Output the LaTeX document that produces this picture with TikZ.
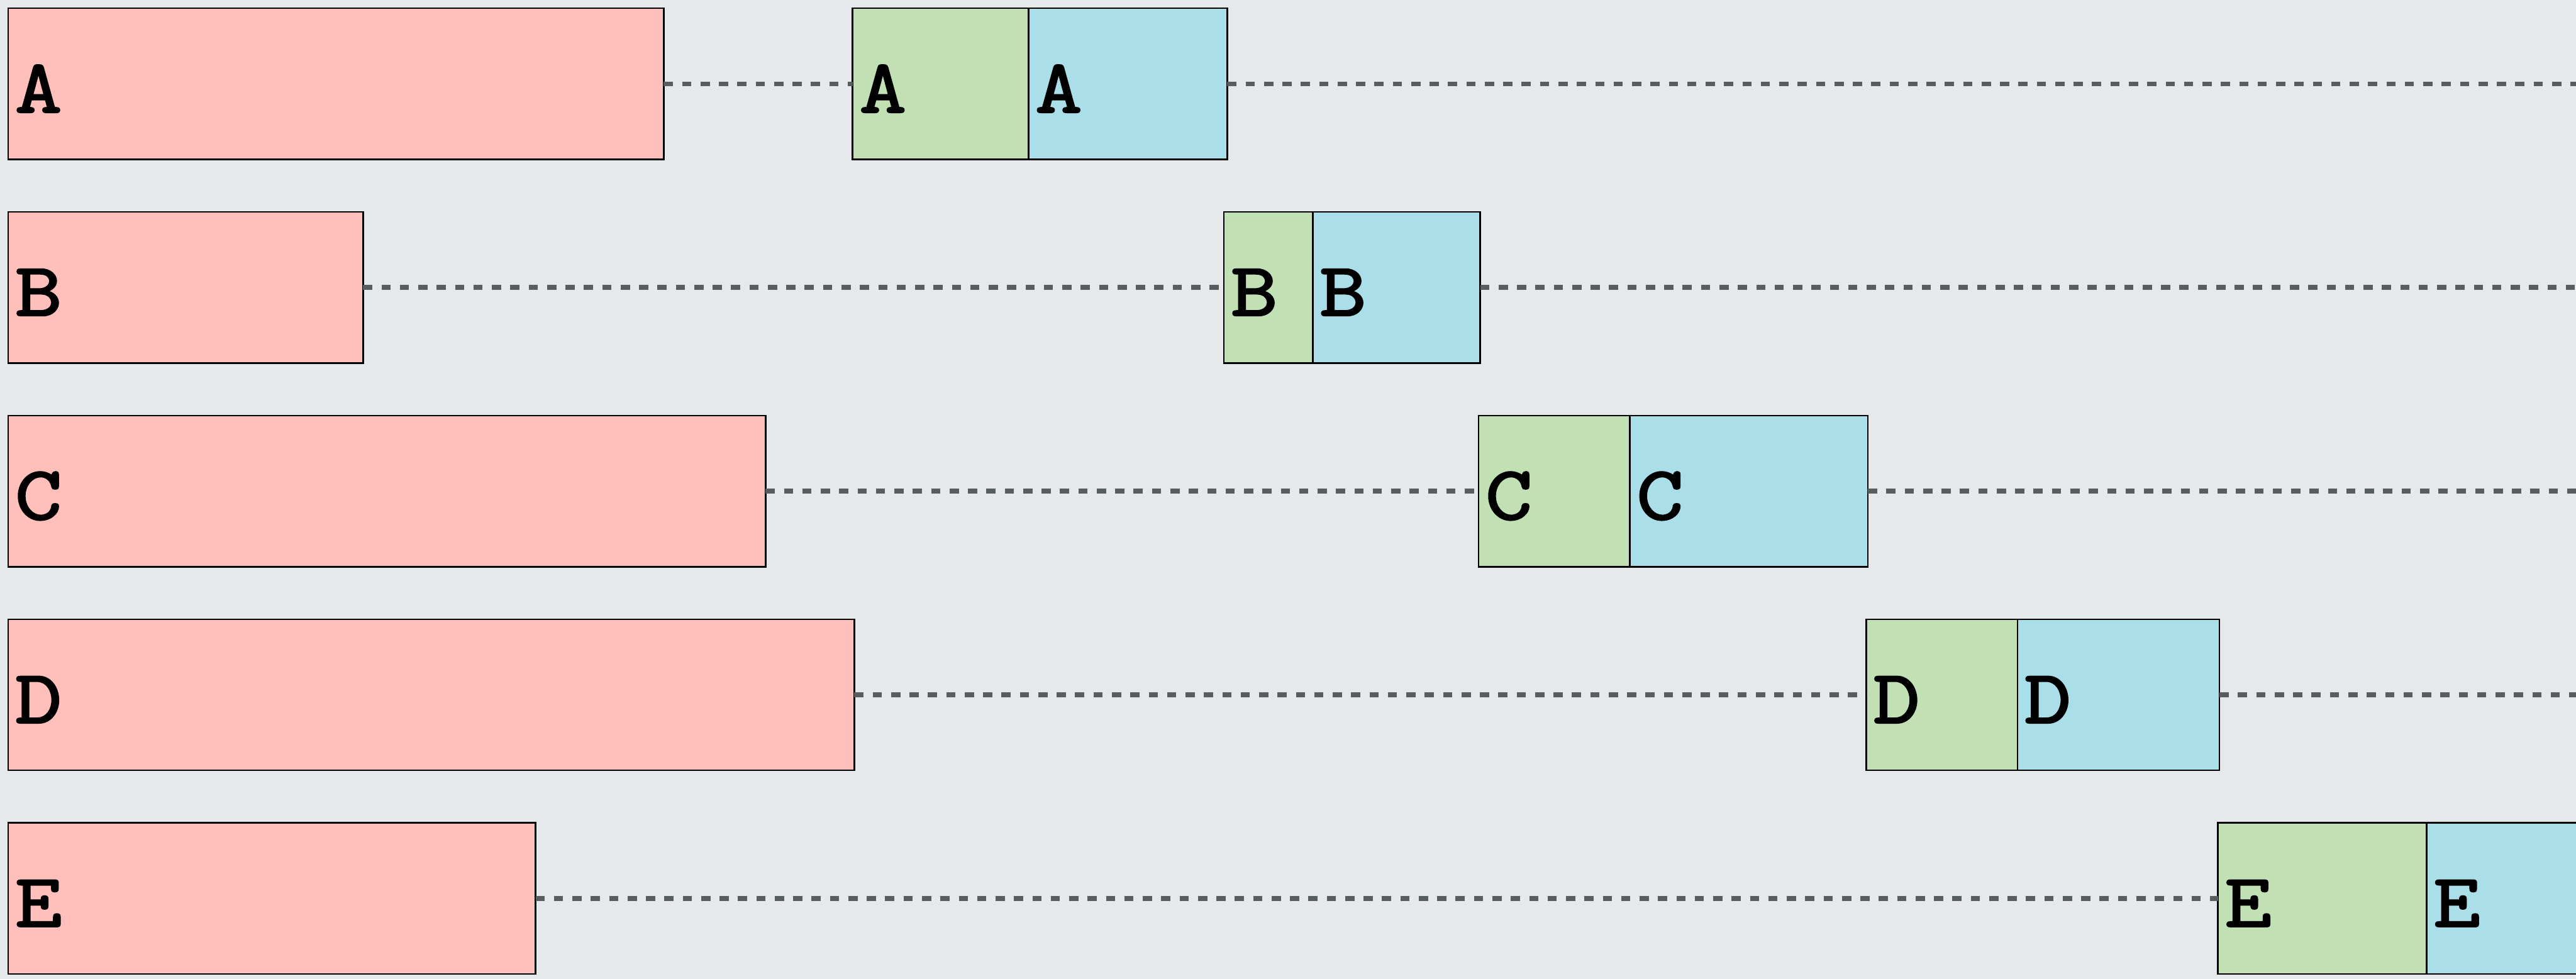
\documentclass[tikz,border=0pt]{standalone}
\usepackage{fontspec}
\newfontfamily\lettersfont[FakeBold=2.5,FakeStretch=1.2]{Latin Modern Mono}
\definecolor{bgc}{RGB}{230,233,236}
\definecolor{pinkc}{RGB}{255,191,186}
\definecolor{greenc}{RGB}{193,224,180}
\definecolor{bluec}{RGB}{170,222,232}
\definecolor{dashc}{RGB}{88,93,93}
\tikzset{
  box/.style={draw=black, line width=1pt, minimum height=92pt, inner sep=0pt, outer sep=0pt, anchor=north west},
  pinkbox/.style={box, fill=pinkc},
  greenbox/.style={box, fill=greenc},
  bluebox/.style={box, fill=bluec},
  lbl/.style={anchor=west, inner sep=0pt, xshift=4pt, yshift=-3pt, font=\lettersfont\fontsize{46}{46}\selectfont},
  conn/.style={draw=dashc, line width=2.8pt, dash pattern=on 5.6pt off 5.6pt}
}
\begin{document}
\begin{tikzpicture}[x=1pt,y=-1pt]
\useasboundingbox (0,0) rectangle (1568,596);
\clip (0,0) rectangle (1568,596);
\fill[bgc] (0,0) rectangle (1568,596);
% right edge coordinates
\coordinate (rA) at (1568,51);
\coordinate (rB) at (1568,175);
\coordinate (rC) at (1568,299);
\coordinate (rD) at (1568,423);
% row A
\node[pinkbox, minimum width=399pt] (pA) at (5,5) {};
\node[greenbox, minimum width=107pt] (gA) at (519,5) {};
\node[bluebox, minimum width=121pt] (bA) at (626,5) {};
% row B
\node[pinkbox, minimum width=216pt] (pB) at (5,129) {};
\node[greenbox, minimum width=54pt] (gB) at (745,129) {};
\node[bluebox, minimum width=102pt] (bB) at (799,129) {};
% row C
\node[pinkbox, minimum width=461pt] (pC) at (5,253) {};
\node[greenbox, minimum width=92pt] (gC) at (900,253) {};
\node[bluebox, minimum width=145pt] (bC) at (992,253) {};
% row D
\node[pinkbox, minimum width=515pt] (pD) at (5,377) {};
\node[greenbox, minimum width=92pt] (gD) at (1136,377) {};
\node[bluebox, minimum width=123pt] (bD) at (1228,377) {};
% row E
\node[pinkbox, minimum width=321pt] (pE) at (5,501) {};
\node[greenbox, minimum width=127pt] (gE) at (1350,501) {};
\node[bluebox, minimum width=125pt] (bE) at (1477,501) {};
% labels
\foreach \r/\t in {A/A,B/B,C/C,D/D,E/E}{
  \node[lbl] (lp\r) at (p\r.west) {\t};
  \node[lbl] (lg\r) at (g\r.west) {\t};
  \node[lbl] (lb\r) at (b\r.west) {\t};
}
% connectors
\draw[conn] (pA.east) -- (gA.west);
\draw[conn] (bA.east) -- (rA);
\draw[conn] (pB.east) -- (gB.west);
\draw[conn] (bB.east) -- (rB);
\draw[conn] (pC.east) -- (gC.west);
\draw[conn] (bC.east) -- (rC);
\draw[conn] (pD.east) -- (gD.west);
\draw[conn] (bD.east) -- (rD);
\draw[conn] (pE.east) -- (gE.west);
\end{tikzpicture}
\end{document}
